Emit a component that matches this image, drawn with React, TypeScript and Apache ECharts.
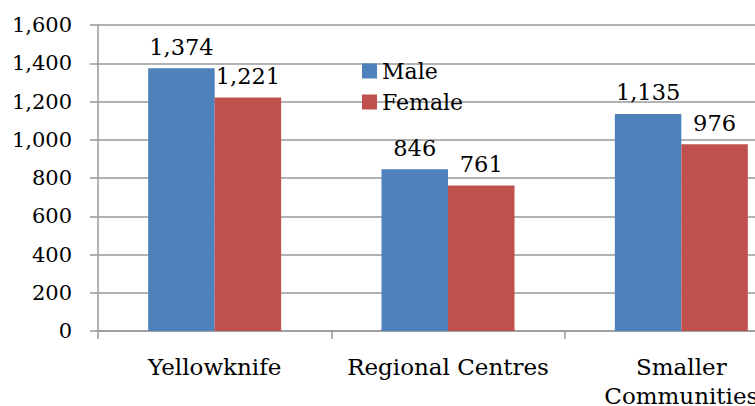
import React, { useEffect, useRef } from "react";
import * as echarts from "echarts";

const categories = ["Yellowknife", "Regional Centres", "Smaller\nCommunities"];
const maleValues = [1374, 846, 1135];
const femaleValues = [1221, 761, 976];
const seriesNames = ["Male", "Female"];

const FONT = "DejaVu Serif";

export default function App() {
  const ref = useRef<HTMLDivElement>(null);
  useEffect(() => {
    if (!ref.current) return;
    const chart = echarts.init(ref.current, null, { renderer: "svg" });
    const labelFmt = (p: any) => Number(p.value).toLocaleString("en-US");
    chart.setOption({
      animation: false,
      backgroundColor: "#ffffff",
      textStyle: { fontFamily: FONT },
      grid: { left: 98, top: 25, width: 700, height: 306, outerBoundsMode: "none", containLabel: false },
      legend: {
        orient: "vertical",
        left: 357,
        top: 55,
        itemWidth: 15,
        itemHeight: 15,
        itemGap: 9,
        icon: "rect",
        textStyle: { fontFamily: FONT, fontSize: 22, color: "#000" },
        data: seriesNames,
      },
      xAxis: {
        type: "category",
        data: categories,
        axisLine: { lineStyle: { color: "#999", width: 1.5 } },
        axisTick: { show: true, length: 8, lineStyle: { color: "#999", width: 1.5 } },
        axisLabel: {
          fontFamily: FONT,
          fontSize: 23,
          color: "#000",
          margin: 21,
          lineHeight: 29,
          interval: 0,
        },
      },
      yAxis: {
        type: "value",
        min: 0,
        max: 1600,
        interval: 200,
        axisLine: { show: true, lineStyle: { color: "#999", width: 1.5 } },
        axisTick: { show: true, length: 8, lineStyle: { color: "#999", width: 1.5 } },
        splitLine: { show: true, lineStyle: { color: "#999", width: 1.5 } },
        axisLabel: {
          fontFamily: FONT,
          fontSize: 21,
          color: "#000",
          margin: 26,
          formatter: (v: number) => v.toLocaleString("en-US"),
        },
      },
      series: [
        {
          name: seriesNames[0],
          type: "bar",
          data: maleValues,
          barGap: "0%",
          barCategoryGap: "43%",
          itemStyle: { color: "#4F81BD" },
          label: {
            show: true,
            position: "top",
            distance: 10,
            fontFamily: FONT,
            fontSize: 22.5,
            color: "#000",
            formatter: labelFmt,
          },
        },
        {
          name: seriesNames[1],
          type: "bar",
          data: femaleValues,
          barGap: "0%",
          barCategoryGap: "43%",
          itemStyle: { color: "#C0504D" },
          label: {
            show: true,
            position: "top",
            distance: 10,
            fontFamily: FONT,
            fontSize: 22.5,
            color: "#000",
            formatter: labelFmt,
          },
        },
      ],
    });
    return () => chart.dispose();
  }, []);
  return (
    <div
      ref={ref}
      style={{ position: "fixed", left: 0, top: 0, width: 755, height: 406, overflow: "hidden" }}
    />
  );
}
